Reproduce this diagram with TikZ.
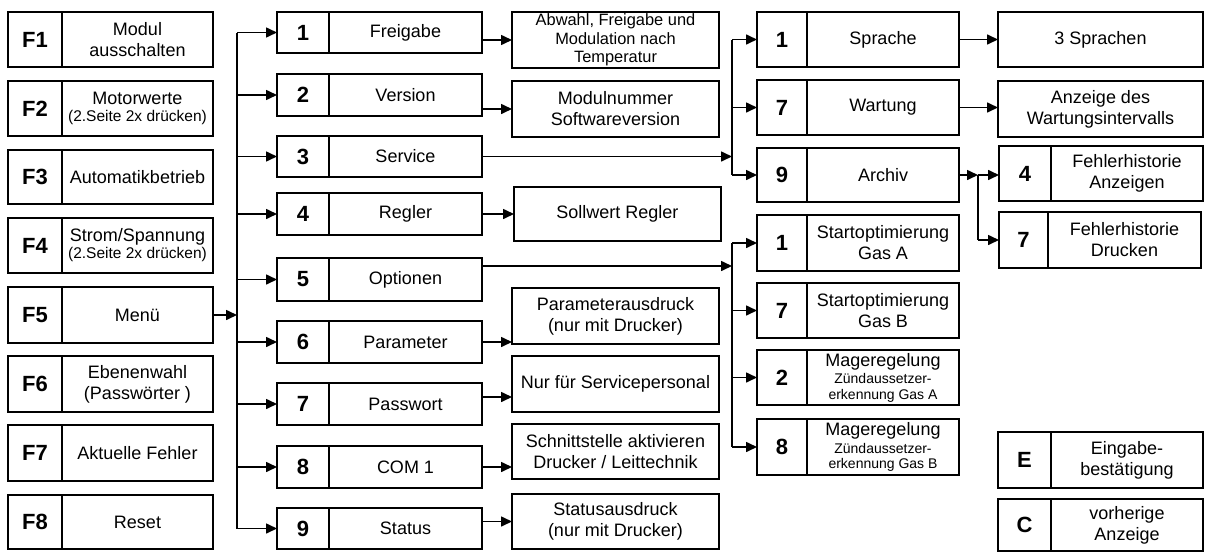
\documentclass[tikz,border=0pt]{standalone}
\usepackage{fontspec}
\setmainfont{Liberation Sans}
\usetikzlibrary{arrows.meta}
\newcommand\mainsz{\fontsize{18}{21}\selectfont}
\newcommand\smallsz{\fontsize{15.5}{17}\selectfont}
\newcommand\tinysz{\fontsize{14}{15.5}\selectfont}
\tikzset{
  cell/.style={draw=black, line width=2.6pt, inner sep=1pt, outer sep=0pt,
    rectangle, anchor=north west, align=center},
  keycell/.style={cell, font=\fontsize{22}{24}\selectfont\bfseries},
  txtcell/.style={cell, font=\mainsz},
  conn/.style={line width=1.6pt, black},
  arr/.style={conn, -{Triangle[length=11pt,width=10pt]}},
}
% \twobox[text style]{name}{x1}{y1}{xdiv}{x2}{y2}{key}{text}
\newcommand\twobox[9][]{%
  \node[keycell, minimum width={(#5)-(#3)}, minimum height={(#7)-(#4)}] (#2k) at (#3,#4) {#8};
  \node[txtcell, minimum width={(#6)-(#5)}, minimum height={(#7)-(#4)}, #1] (#2) at (#5,#4) {#9};}
% \onebox[text style]{name}{x1}{y1}{x2}{y2}{text}
\newcommand\onebox[7][]{%
  \node[txtcell, minimum width={(#5)-(#3)}, minimum height={(#6)-(#4)}, #1] (#2) at (#3,#4) {#7};}
\begin{document}
\begin{tikzpicture}[x=1pt, y=-1pt]
\useasboundingbox (0,0) rectangle (1205,554);
% F column
\twobox{f1}{8}{12}{62}{213}{67}{F1}{Modul\\ausschalten}
\twobox[font=\smallsz]{f2}{8}{81}{62}{213}{136}{F2}{{\mainsz Motorwerte}\\(2.Seite 2x drücken)}
\twobox{f3}{8}{150}{62}{213}{204}{F3}{Automatikbetrieb}
\twobox[font=\smallsz]{f4}{8}{218}{62}{213}{273}{F4}{{\mainsz Strom/Spannung}\\(2.Seite 2x drücken)}
\twobox{f5}{8}{287}{62}{213}{343}{F5}{Menü}
\twobox{f6}{8}{356}{62}{213}{412}{F6}{Ebenenwahl\\(Passwörter )}
\twobox{f7}{8}{425}{62}{213}{481}{F7}{Aktuelle Fehler}
\twobox{f8}{8}{495}{62}{213}{549}{F8}{Reset}
% middle column
\twobox{m1}{277}{12}{329}{482}{53}{1}{Freigabe}
\twobox{m2}{277}{74}{329}{482}{116}{2}{Version}
\twobox{m3}{277}{136}{329}{482}{177}{3}{Service}
\twobox{m4}{277}{193}{329}{482}{235}{4}{Regler}
\twobox{m5}{277}{258}{329}{482}{301}{5}{Optionen}
\twobox{m6}{277}{321}{329}{482}{363}{6}{Parameter}
\twobox{m7}{277}{383}{329}{482}{425}{7}{Passwort}
\twobox{m8}{277}{446}{329}{482}{488}{8}{COM 1}
\twobox{m9}{277}{508}{329}{482}{549}{9}{Status}
% descriptions
\onebox[font=\fontsize{16.4}{18.5}\selectfont]{d1}{512}{12}{719}{68}{Abwahl, Freigabe und\\Modulation nach\\Temperatur}
\onebox{d2}{512}{81}{719}{137}{Modulnummer\\Softwareversion}
\onebox{d4}{514}{187}{721}{241}{Sollwert Regler}
\onebox{d6}{512}{288}{719}{344}{Parameterausdruck\\(nur mit Drucker)}
\onebox{d7}{512}{356}{719}{412}{Nur für Servicepersonal}
\onebox{d8}{512}{424}{719}{479}{Schnittstelle aktivieren\\Drucker / Leittechnik}
\onebox{d9}{512}{494}{719}{549}{Statusausdruck\\(nur mit Drucker)}
% fourth column
\twobox{s1}{757}{12}{807}{959}{67}{1}{Sprache}
\twobox{s7}{757}{80}{807}{959}{135}{7}{Wartung}
\twobox{s9}{757}{148}{807}{959}{202}{9}{Archiv}
\twobox{o1}{757}{215}{807}{959}{271}{1}{Startoptimierung\\Gas A}
\twobox{o7}{757}{283}{807}{959}{338}{7}{Startoptimierung\\Gas B}
\twobox[font=\tinysz]{o2}{757}{350}{807}{959}{405}{2}{{\mainsz Mageregelung}\\[2pt]Zündaussetzer-\\erkennung Gas A}
\twobox[font=\tinysz]{o8}{757}{419}{807}{959}{475}{8}{{\mainsz Mageregelung}\\[2pt]Zündaussetzer-\\erkennung Gas B}
% fifth column
\onebox{r1}{998}{12}{1203}{67}{3 Sprachen}
\onebox{r2}{998}{81}{1203}{137}{Anzeige des\\Wartungsintervalls}
\twobox{h4}{999}{146}{1051}{1203}{201}{4}{Fehlerhistorie\\Anzeigen}
\twobox{h7}{999}{212}{1048}{1201}{268}{7}{Fehlerhistorie\\Drucken}
\twobox{e}{998}{432}{1051}{1203}{488}{E}{Eingabe-\\bestätigung}
\twobox{c}{998}{499}{1051}{1203}{551}{C}{vorherige\\Anzeige}
% bus coordinates
\coordinate (b1) at (237,0);
\coordinate (b2) at (732,0);
\coordinate (j) at (978,0);
% menu bus
\draw[arr] (f5.east) -- (f5.east -| b1);
\draw[conn] (m1k.west -| b1) -- (m9k.west -| b1);
\foreach \i in {1,...,9} \draw[arr] (m\i k.west -| b1) -- (m\i k.west);
% middle to descriptions
\draw[arr] (d1.west -| m1.east) -- (d1.west);
\draw[arr] (d2.west -| m2.east) -- (d2.west);
\draw[arr] (d4.west -| m4.east) -- (d4.west);
\draw[arr] (m6.east) -- (m6.east -| d6.west);
\draw[arr] ([yshift=7pt]m7.east) -- ([yshift=7pt]m7.east -| d7.west);
\draw[arr] (m8.east) -- (m8.east -| d8.west);
\draw[arr] (d9.west -| m9.east) -- (d9.west);
% service bus
\draw[arr] (m3.east) -- (m3.east -| b2);
\draw[conn] (s1k.west -| b2) -- (s9k.west -| b2);
\foreach \n in {s1k,s7k,s9k} \draw[arr] (\n.west -| b2) -- (\n.west);
% options bus
\draw[arr] ([yshift=13.5pt]m5.east) -- ([yshift=13.5pt]m5.east -| b2);
\draw[conn] (o1k.west -| b2) -- (o8k.west -| b2);
\foreach \n in {o1k,o7k,o2k,o8k} \draw[arr] (\n.west -| b2) -- (\n.west);
% fourth to fifth
\draw[arr] (s1.east) -- (s1.east -| r1.west);
\draw[arr] (s7.east) -- (s7.east -| r2.west);
\draw[arr] (s9.east) -- (s9.east -| j);
\draw[arr] (s9.east -| j) -- (s9.east -| h4k.west);
\draw[conn] (s9.east -| j) -- (h7k.west -| j);
\draw[arr] (h7k.west -| j) -- (h7k.west);
\end{tikzpicture}
\end{document}
